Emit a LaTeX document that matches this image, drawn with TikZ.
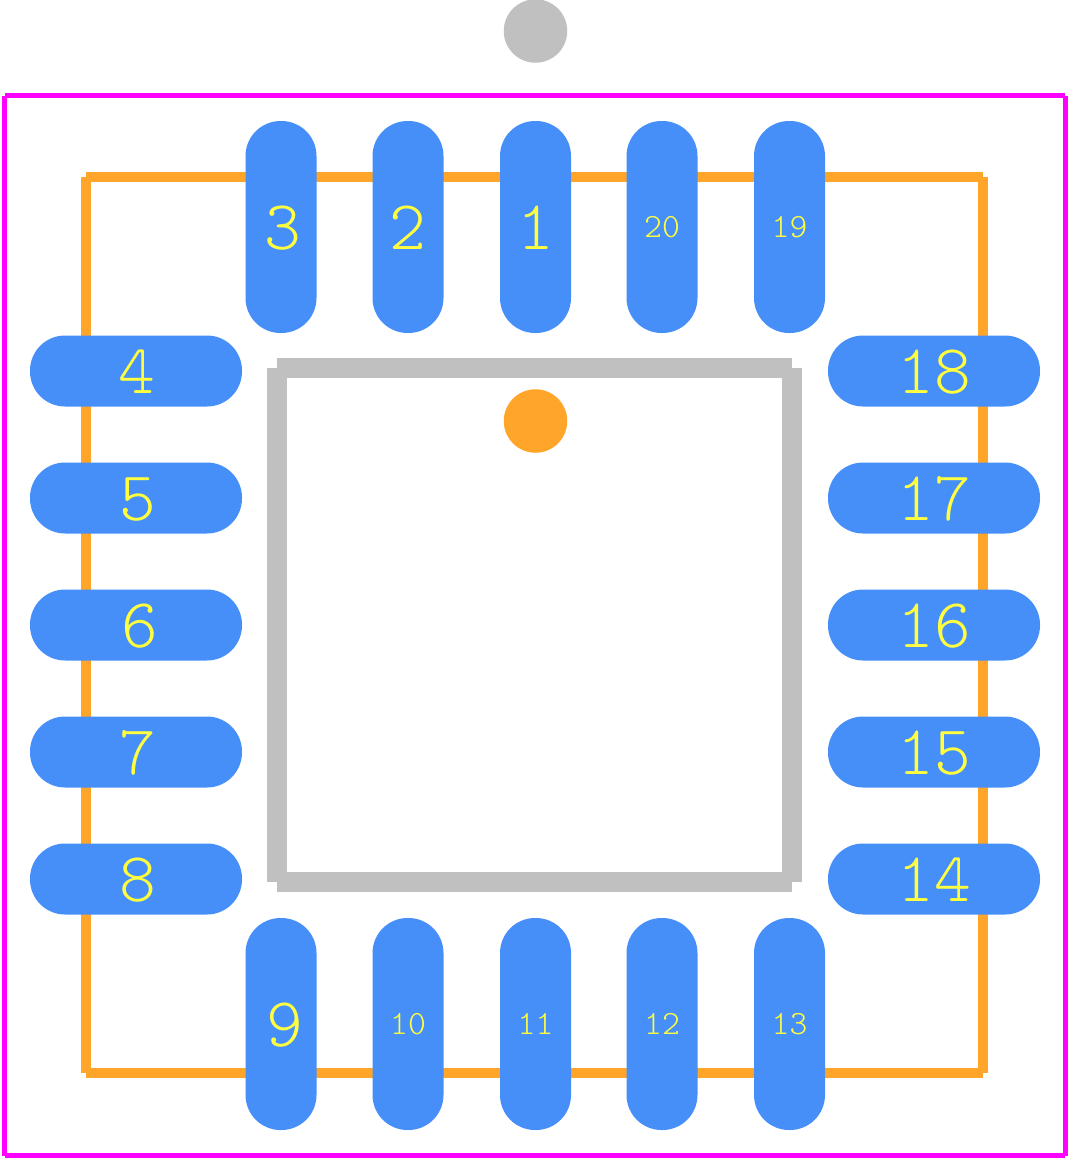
\documentclass[tikz,border=0pt]{standalone}
\definecolor{padblue}{HTML}{468FF9}
\definecolor{silkorange}{HTML}{FFA52A}
\definecolor{bodygray}{HTML}{C0C0C0}
\definecolor{courtmag}{HTML}{FF00FF}
\definecolor{labelyellow}{HTML}{FFFF40}
\newcommand{\nudge}[2]{\hspace*{#1pt}#2}
\tikzset{
  x=1pt,y=-1pt,
  court/.style={draw=courtmag,line width=5pt,line cap=butt},
  silk/.style={draw=silkorange,line width=10pt,line cap=butt},
  body/.style={draw=bodygray,line width=20pt,line cap=butt},
  dotmark/.style={circle,minimum size=63.5pt,inner sep=0pt},
  padbase/.style={fill=padblue,inner sep=0pt,rounded corners=35pt,text=labelyellow,text depth=0pt,text height=45pt,font=\fontfamily{lmtt}\fontseries{l}\fontsize{70}{70}\selectfont},
  padv/.style={padbase,minimum width=71pt,minimum height=212pt},
  padh/.style={padbase,minimum width=212pt,minimum height=71pt},
  small/.style={text height=21pt,font=\fontfamily{lmtt}\fontseries{l}\fontsize{34}{34}\selectfont},
}
\begin{document}
\begin{tikzpicture}
\useasboundingbox (0,0) rectangle (1070,1160);
% courtyard
\draw[court] (4.5,95.5) -- (1065,95.5);
\draw[court] (4.5,95.5) -- (4.5,1155.5);
\draw[court] (4.5,1155.5) -- (1065,1155.5);
\draw[court] (1065,95.5) -- (1065,1155.5);
% silkscreen outline
\draw[silk] (86,177) -- (983,177);
\draw[silk] (86,177) -- (86,1073);
\draw[silk] (86,1073) -- (983,1073);
\draw[silk] (983,177) -- (983,1073);
% body outline
\draw[body] (277,368) -- (792,368);
\draw[body] (277,368) -- (277,882);
\draw[body] (277,882) -- (792,882);
\draw[body] (792,368) -- (792,882);
% markers
\node[dotmark,fill=bodygray] (topdot) at (535.5,31) {};
\node[dotmark,fill=silkorange] (pinone) at (535.5,421) {};
% top pads
\node[padv] (p3) at (281,227) {\nudge{3}{3}};
\node[padv] (p2) at (408,227) {2};
\node[padv] (p1) at (535.5,227) {\nudge{1}{1}};
\node[padv,small] (p20) at (662,227) {20};
\node[padv,small] (p19) at (789.5,227) {19};
% left pads
\node[padh] (p4) at (136,371) {\nudge{2}{4}};
\node[padh] (p5) at (136,498) {\nudge{3}{5}};
\node[padh] (p6) at (136,625) {\nudge{7}{6}};
\node[padh] (p7) at (136,752) {\nudge{3}{7}};
\node[padh] (p8) at (136,879) {\nudge{3}{8}};
% bottom pads
\node[padv] (p9) at (281,1024) {\nudge{7}{9}};
\node[padv,small] (p10) at (408,1024) {10};
\node[padv,small] (p11) at (535.5,1024) {11};
\node[padv,small] (p12) at (662,1024) {12};
\node[padv,small] (p13) at (789.5,1024) {13};
% right pads
\node[padh] (p18) at (934,371) {18};
\node[padh] (p17) at (934,498) {17};
\node[padh] (p16) at (934,625) {16};
\node[padh] (p15) at (934,752) {15};
\node[padh] (p14) at (934,879) {14};
\end{tikzpicture}
\end{document}
